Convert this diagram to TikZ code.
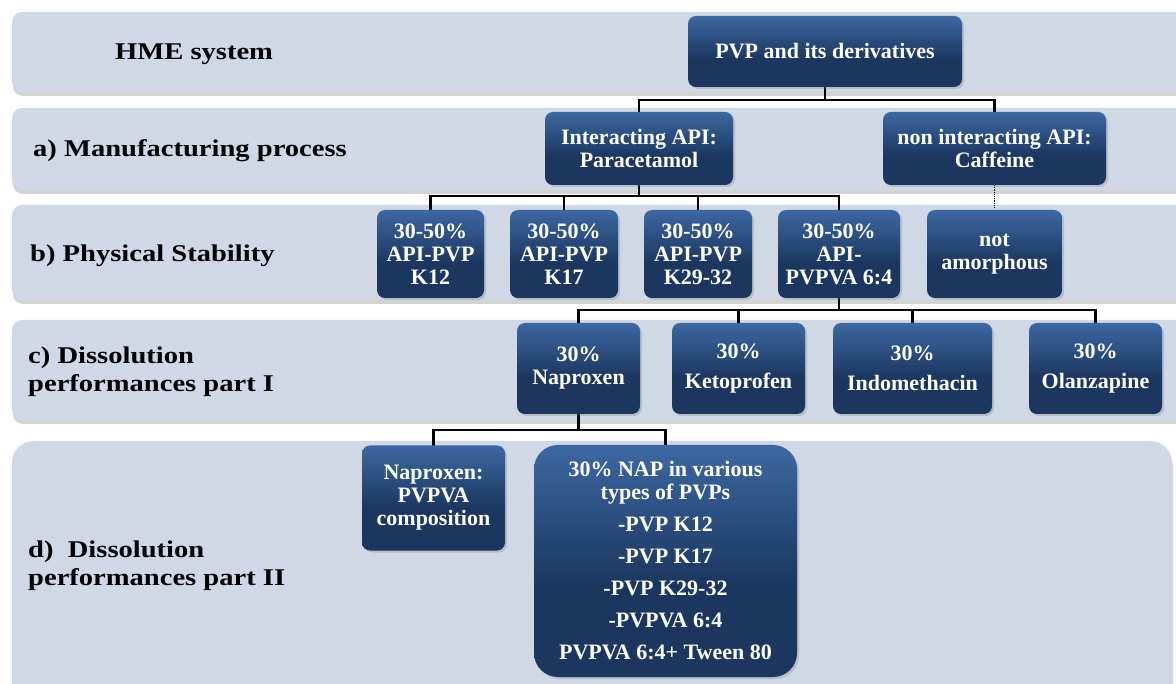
\documentclass[tikz,border=0pt]{standalone}
\usepackage{fontspec}
\setmainfont{Liberation Serif}
\newfontfamily\bandfont[FakeStretch=1.19]{Liberation Serif}
\usepackage{tikz}
\usetikzlibrary{shadows}
\definecolor{bandfill}{RGB}{208,215,229}
\definecolor{boxlight}{RGB}{88,145,216}
\definecolor{boxdark}{RGB}{27,55,96}
\pgfdeclareverticalshading{boxshade}{100bp}{color(0bp)=(boxdark); color(45bp)=(boxdark); color(100bp)=(boxlight)}
\tikzstyle{band}=[fill=bandfill,rounded corners=10pt,drop shadow={shadow xshift=1pt,shadow yshift=-4pt,opacity=.35}]
\tikzstyle{stage}=[anchor=west,align=left,inner sep=0pt,font=\bandfont\bfseries\fontsize{24}{28}\selectfont]
\tikzstyle{box}=[rounded corners=8pt,shading=boxshade,text=white,align=center,inner sep=0pt,
  font=\bfseries\fontsize{22}{23}\selectfont,drop shadow={shadow xshift=2pt,shadow yshift=-2pt,opacity=.3}]
\tikzstyle{link}=[line width=2.5pt,black]

\begin{document}
\begin{tikzpicture}[x=1pt,y=-1pt]
    \useasboundingbox (0,0) rectangle (1176,684);
    \clip (0,0) rectangle (1176,684);

    % rows
    \path[band] (12,12) rectangle (1200,92);
    \path[band] (12,108) rectangle (1200,190);
    \path[band] (12,205) rectangle (1200,300);
    \path[band] (12,320) rectangle (1200,420);
    \path[band,rounded corners=22pt] (12,441) rectangle (1172,705);

    \node[stage] (hme) at (115,54) {HME system};
    \node[stage] (proc) at (33,151) {a) Manufacturing process};
    \node[stage] (stab) at (30,256) {b) Physical Stability};
    \node[stage] (dissa) at (28,372) {c) Dissolution\\performances part I};
    \node[stage] (dissb) at (28,566) {d)\ \ Dissolution\\performances part II};

    % connectors go under the boxes
    \coordinate (pvpb) at (825,87);
    \coordinate (interb) at (639,185);
    \coordinate (vpvab) at (839,297);
    \coordinate (napb) at (578.5,413);
    \foreach \x in {639,994.5}
        \draw[link] (pvpb) -- ++(0,13) -| (\x,114);
    \foreach \x in {430.5,564,698,839}
        \draw[link] (interb) -- ++(0,11) -| (\x,211);
    \foreach \x in {578.5,738.5,912.5,1095.5}
        \draw[link] (vpvab) -- ++(0,13) -| (\x,324);
    \foreach \x in {433.5,665.5}
        \draw[link] (napb) -- ++(0,17) -| (\x,447);
    \draw[densely dotted,line width=1.2pt] (994.5,185) -- (994.5,209);

    \node[box,minimum width=274pt,minimum height=71pt] (pvp) at (825,51.5) {PVP and its derivatives};

    \node[box,minimum width=188pt,minimum height=73pt] (inter) at (639,148.5) {Interacting API:\\Paracetamol};
    \node[box,minimum width=223pt,minimum height=73pt] (nonint) at (994.5,148.5) {non interacting API:\\Caffeine};

    \node[box,minimum width=107pt,minimum height=88pt] (k12) at (430.5,254) {30-50\%\\API-PVP\\K12};
    \node[box,minimum width=108pt,minimum height=88pt] (k17) at (564,254) {30-50\%\\API-PVP\\K17};
    \node[box,minimum width=108pt,minimum height=88pt] (k29) at (698,254) {30-50\%\\API-PVP\\K29-32};
    \node[box,minimum width=122pt,minimum height=88pt] (vpva) at (839,254) {30-50\%\\API-\\PVPVA 6:4};
    \node[box,minimum width=135pt,minimum height=88pt] (notam) at (994.5,254) {not\\amorphous};

    \node[box,minimum width=123pt,minimum height=91pt] (nap) at (578.5,368.5) {30\%\\Naproxen};
    \node[box,minimum width=133pt,minimum height=91pt] (keto) at (738.5,368.5) {30\%\\[7pt]Ketoprofen};
    \node[box,minimum width=159pt,minimum height=91pt] (indo) at (912.5,368.5) {30\%\\[7pt]Indomethacin};
    \node[box,minimum width=133pt,minimum height=91pt] (olan) at (1095.5,368.5) {30\%\\[7pt]Olanzapine};

    \node[box,minimum width=143pt,minimum height=105pt] (napcomp) at (433.5,498) {Naproxen:\\PVPVA\\composition};
    \node[box,rounded corners=24pt,minimum width=263pt,minimum height=232pt] (napvar) at (665.5,561)
        {30\% NAP in various\\types of PVPs\\[9pt]-PVP K12\\[9pt]-PVP K17\\[9pt]-PVP K29-32\\[9pt]-PVPVA 6:4\\[9pt]PVPVA 6:4+ Tween 80};
\end{tikzpicture}
\end{document}
